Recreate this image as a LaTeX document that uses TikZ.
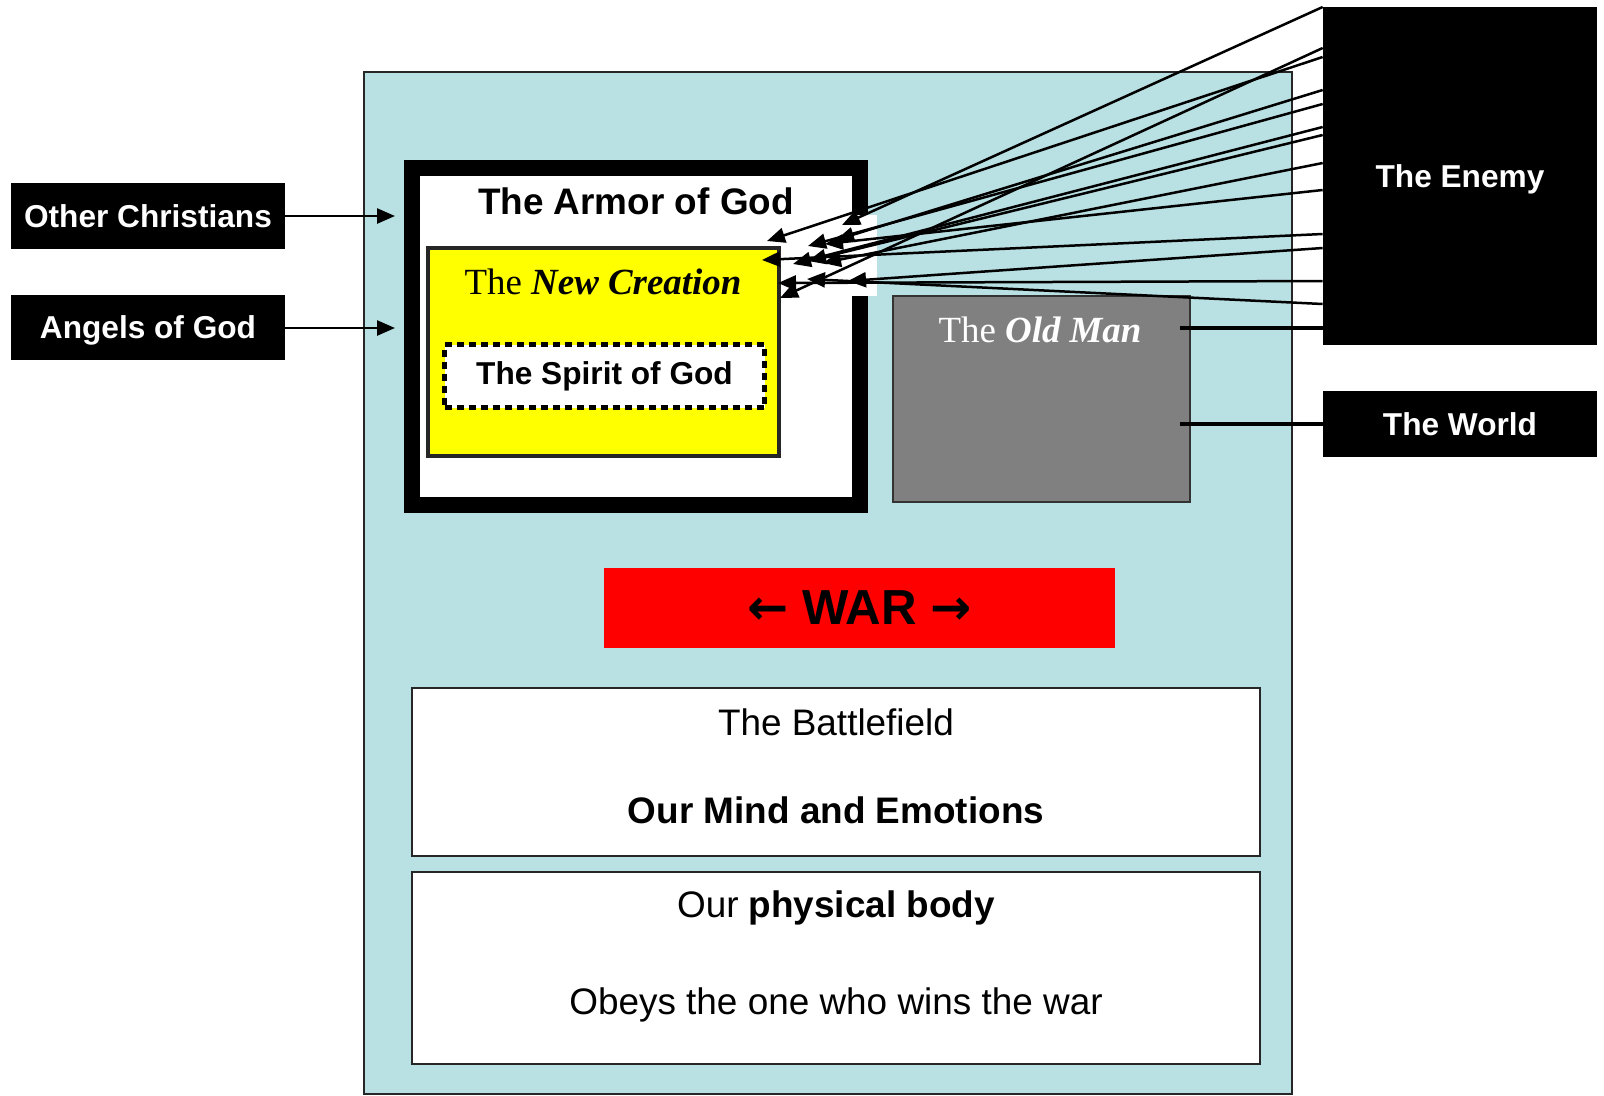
\documentclass[tikz,border=0pt]{standalone}
\usepackage{fontspec}
\setmainfont{Liberation Serif}
\setsansfont{Liberation Sans}
\newfontfamily\arrowfont{DejaVu Sans}
\usetikzlibrary{arrows.meta}
\definecolor{fieldblue}{RGB}{185,224,227}
\definecolor{oldgray}{RGB}{128,128,128}
\definecolor{newyellow}{RGB}{255,255,0}
\tikzset{
  blackbox/.style={fill=black, text=white, inner sep=0pt, text depth=0pt, font=\sffamily\bfseries\fontsize{18}{20}\selectfont},
  plainbox/.style={draw=black!85, line width=0.4mm, fill=white, inner sep=0pt},
  hit/.style={line width=0.5mm, -{Triangle[length=3.6mm,width=3mm]}},
  tie/.style={line width=0.8mm},
  big/.style={font=\sffamily\fontsize{21}{24}\selectfont}
}
\begin{document}
\begin{tikzpicture}[x=0.2mm,y=-0.2mm]
\useasboundingbox (0,0) rectangle (1604,1095);

\node[draw=black!85, line width=0.4mm, fill=fieldblue, minimum width=185.6mm, minimum height=204.4mm] (field) at (828,583) {};

\node[draw=black, line width=3.2mm, fill=white, minimum width=89.6mm, minimum height=67.4mm] (armor) at (636,336.5) {};
\node[anchor=base, font=\sffamily\bfseries\fontsize{21}{24}\selectfont] (armortitle) at (636,214) {The Armor of God};
\fill[white] (852,215) rectangle (877,296);

\node[draw=black!85, line width=0.8mm, fill=newyellow, minimum width=70.2mm, minimum height=41.6mm] (newman) at (603.5,352) {};
\node[anchor=base, font=\fontsize{21}{24}\selectfont] (newtitle) at (603,294) {The \textbf{\textit{New Creation}}};
\node[draw=black, line width=1mm, dash pattern=on 1.4mm off 1mm, fill=white, minimum width=64mm, minimum height=12.6mm, font=\sffamily\bfseries\fontsize{18}{20}\selectfont] (spirit) at (604.5,376) {The Spirit of God};

\node[draw=black!80, line width=0.4mm, fill=oldgray, minimum width=59.4mm, minimum height=41.2mm] (oldman) at (1041.5,399) {};
\node[anchor=base, text=white, font=\fontsize{21}{24}\selectfont] (oldtitle) at (1040,342) {The \textbf{\textit{Old Man}}};

\node[fill=red, minimum width=102.2mm, minimum height=16mm, font=\sffamily\bfseries\fontsize{28}{30}\selectfont] (war) at (859.5,608) {{\arrowfont ←} WAR {\arrowfont →}};

\node[plainbox, minimum width=169.6mm, minimum height=33.6mm] (mind) at (836,772) {};
\node[big, anchor=base] (mindtop) at (836,735) {The Battlefield};
\node[big, anchor=base] (mindlow) at (836,823) {\bfseries Our Mind and Emotions};
\node[plainbox, minimum width=169.6mm, minimum height=38.4mm] (body) at (836,968) {};
\node[big, anchor=base] (bodytop) at (836,917) {Our \textbf{physical body}};
\node[big, anchor=base] (bodylow) at (836,1014) {Obeys the one who wins the war};

\node[blackbox, minimum width=54.8mm, minimum height=13.2mm] (others) at (148,216) {Other Christians};
\node[blackbox, minimum width=54.8mm, minimum height=13mm] (angels) at (148,327.5) {Angels of God};
\node[blackbox, minimum width=54.8mm, minimum height=67.6mm] (enemy) at (1460,176) {The Enemy};
\node[blackbox, minimum width=54.8mm, minimum height=13.2mm] (world) at (1460,424) {The World};

\coordinate (helpa) at (395,216);
\coordinate (helpb) at (395,328);
\draw[hit] (others) -- (helpa);
\draw[hit] (angels.east |- helpb) -- (helpb);

\foreach \i/\ys/\xe/\ye in {1/7/842/225, 2/48/780/298, 3/57/767/241, 4/90/836/240, 5/104/808/246,
  6/127/793/264, 7/135/808/261, 8/163/823/263, 9/190/825/244, 10/234/762/260,
  11/248/848/281, 12/281/778/283, 13/304/807/279}{
  \coordinate (dart\i) at (\xe,\ye);
  \draw[hit] (enemy.west |- 0,\ys) -- (dart\i);
}

\coordinate (oldtop) at (1180,328);
\coordinate (oldlow) at (1180,424);
\draw[tie] (enemy.west |- oldtop) -- (oldtop);
\draw[tie] (world) -- (oldlow);
\end{tikzpicture}
\end{document}
